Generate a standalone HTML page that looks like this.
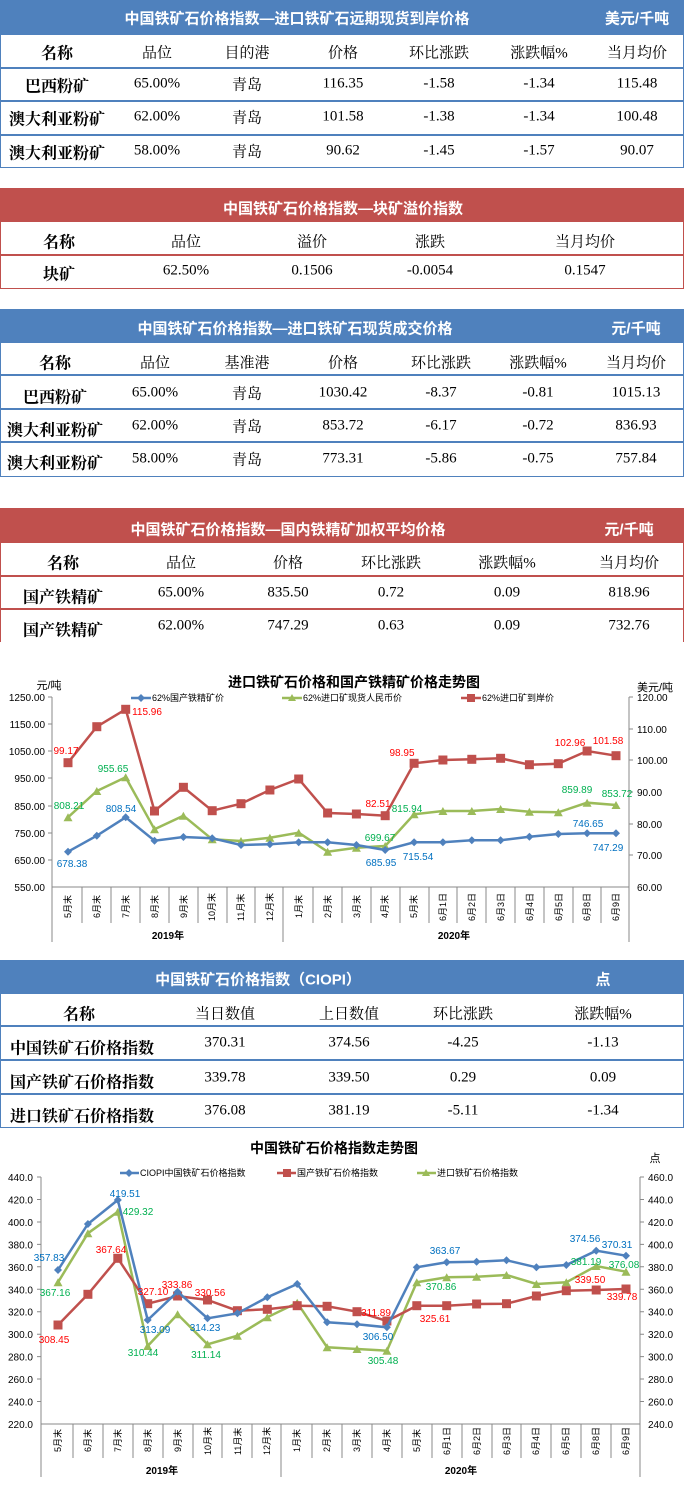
<!DOCTYPE html>
<html><head><meta charset="utf-8">
<style>
*{margin:0;padding:0;box-sizing:border-box}
body{width:684px;height:1487px;background:#fff;position:relative;overflow:hidden;font-family:"Liberation Serif","Noto Serif CJK SC",serif;color:#000}
.bar{position:absolute;left:0;width:684px;color:#fff;font-family:"Liberation Sans","Noto Sans CJK SC",sans-serif;font-weight:bold;font-size:15px}
.blue{background:#4f81bd}.red{background:#c0504d}
.box{position:absolute;left:0;width:684px}
.bb{border:1px solid #4f81bd;border-top:none}
.rb{border:1px solid #c0504d;border-top:none}
.hl{position:absolute;left:0;width:684px;height:2px}
.t{position:absolute;transform:translate(-50%,-50%);white-space:nowrap;font-size:15px}
.n{font-weight:bold;font-size:16px}
.l{position:absolute;transform:translateY(-50%);white-space:nowrap;font-weight:bold;font-size:16px}
svg text{font-family:"Liberation Sans","Noto Sans CJK SC",sans-serif}
</style></head><body>

<!-- Table 1 -->
<div class="bar blue" style="top:0;height:35px"></div>
<div class="t" style="left:297px;top:18px;color:#fff;font-family:'Liberation Sans','Noto Sans CJK SC',sans-serif;font-weight:bold">中国铁矿石价格指数—进口铁矿石远期现货到岸价格</div>
<div class="t" style="left:637px;top:18px;color:#fff;font-family:'Liberation Sans','Noto Sans CJK SC',sans-serif;font-weight:bold">美元/千吨</div>
<div class="box bb" style="top:35px;height:133px"></div>
<div class="hl" style="top:67px;background:#4f81bd"></div>
<div class="hl" style="top:100px;background:#4f81bd"></div>
<div class="hl" style="top:134px;background:#4f81bd"></div>
<div class="t n" style="left:57px;top:52px">名称</div><div class="t" style="left:157px;top:52px">品位</div><div class="t" style="left:247px;top:52px">目的港</div><div class="t" style="left:343px;top:52px">价格</div><div class="t" style="left:439px;top:52px">环比涨跌</div><div class="t" style="left:539px;top:52px">涨跌幅%</div><div class="t" style="left:637px;top:52px">当月均价</div>
<div class="t n" style="left:57px;top:85px">巴西粉矿</div><div class="t" style="left:157px;top:84px">65.00%</div><div class="t" style="left:247px;top:84px">青岛</div><div class="t" style="left:343px;top:84px">116.35</div><div class="t" style="left:439px;top:84px">-1.58</div><div class="t" style="left:539px;top:84px">-1.34</div><div class="t" style="left:637px;top:84px">115.48</div>
<div class="t n" style="left:57px;top:118px">澳大利亚粉矿</div><div class="t" style="left:157px;top:117px">62.00%</div><div class="t" style="left:247px;top:117px">青岛</div><div class="t" style="left:343px;top:117px">101.58</div><div class="t" style="left:439px;top:117px">-1.38</div><div class="t" style="left:539px;top:117px">-1.34</div><div class="t" style="left:637px;top:117px">100.48</div>
<div class="t n" style="left:57px;top:152px">澳大利亚粉矿</div><div class="t" style="left:157px;top:151px">58.00%</div><div class="t" style="left:247px;top:151px">青岛</div><div class="t" style="left:343px;top:151px">90.62</div><div class="t" style="left:439px;top:151px">-1.45</div><div class="t" style="left:539px;top:151px">-1.57</div><div class="t" style="left:637px;top:151px">90.07</div>

<!-- Table 2 -->
<div class="bar red" style="top:188px;height:34px"></div>
<div class="t" style="left:343px;top:208px;color:#fff;font-family:'Liberation Sans','Noto Sans CJK SC',sans-serif;font-weight:bold">中国铁矿石价格指数—块矿溢价指数</div>
<div class="box rb" style="top:222px;height:67px"></div>
<div class="hl" style="top:254px;background:#c0504d"></div>
<div class="t n" style="left:59px;top:241px">名称</div><div class="t" style="left:186px;top:241px">品位</div><div class="t" style="left:312px;top:241px">溢价</div><div class="t" style="left:430px;top:241px">涨跌</div><div class="t" style="left:585px;top:241px">当月均价</div>
<div class="t n" style="left:59px;top:273px">块矿</div><div class="t" style="left:186px;top:271px">62.50%</div><div class="t" style="left:312px;top:271px">0.1506</div><div class="t" style="left:430px;top:271px">-0.0054</div><div class="t" style="left:585px;top:271px">0.1547</div>

<!-- Table 3 -->
<div class="bar blue" style="top:309px;height:34px"></div>
<div class="t" style="left:295px;top:328px;color:#fff;font-family:'Liberation Sans','Noto Sans CJK SC',sans-serif;font-weight:bold">中国铁矿石价格指数—进口铁矿石现货成交价格</div>
<div class="t" style="left:636px;top:328px;color:#fff;font-family:'Liberation Sans','Noto Sans CJK SC',sans-serif;font-weight:bold">元/千吨</div>
<div class="box bb" style="top:343px;height:134px"></div>
<div class="hl" style="top:374px;background:#4f81bd"></div>
<div class="hl" style="top:408px;background:#4f81bd"></div>
<div class="hl" style="top:441px;background:#4f81bd"></div>
<div class="t n" style="left:55px;top:362px">名称</div><div class="t" style="left:155px;top:362px">品位</div><div class="t" style="left:247px;top:362px">基准港</div><div class="t" style="left:343px;top:362px">价格</div><div class="t" style="left:441px;top:362px">环比涨跌</div><div class="t" style="left:538px;top:362px">涨跌幅%</div><div class="t" style="left:636px;top:362px">当月均价</div>
<div class="t n" style="left:55px;top:396px">巴西粉矿</div><div class="t" style="left:155px;top:393px">65.00%</div><div class="t" style="left:247px;top:393px">青岛</div><div class="t" style="left:343px;top:393px">1030.42</div><div class="t" style="left:441px;top:393px">-8.37</div><div class="t" style="left:538px;top:393px">-0.81</div><div class="t" style="left:636px;top:393px">1015.13</div>
<div class="t n" style="left:55px;top:429px">澳大利亚粉矿</div><div class="t" style="left:155px;top:426px">62.00%</div><div class="t" style="left:247px;top:426px">青岛</div><div class="t" style="left:343px;top:426px">853.72</div><div class="t" style="left:441px;top:426px">-6.17</div><div class="t" style="left:538px;top:426px">-0.72</div><div class="t" style="left:636px;top:426px">836.93</div>
<div class="t n" style="left:55px;top:462px">澳大利亚粉矿</div><div class="t" style="left:155px;top:459px">58.00%</div><div class="t" style="left:247px;top:459px">青岛</div><div class="t" style="left:343px;top:459px">773.31</div><div class="t" style="left:441px;top:459px">-5.86</div><div class="t" style="left:538px;top:459px">-0.75</div><div class="t" style="left:636px;top:459px">757.84</div>

<!-- Table 4 -->
<div class="bar red" style="top:508px;height:35px"></div>
<div class="t" style="left:288px;top:529px;color:#fff;font-family:'Liberation Sans','Noto Sans CJK SC',sans-serif;font-weight:bold">中国铁矿石价格指数—国内铁精矿加权平均价格</div>
<div class="t" style="left:629px;top:529px;color:#fff;font-family:'Liberation Sans','Noto Sans CJK SC',sans-serif;font-weight:bold">元/千吨</div>
<div class="box" style="top:543px;height:99px;border-left:1px solid #c0504d;border-right:1px solid #c0504d"></div>
<div class="hl" style="top:575px;background:#c0504d"></div>
<div class="hl" style="top:608px;background:#c0504d"></div>
<div class="t n" style="left:63px;top:562px">名称</div><div class="t" style="left:181px;top:562px">品位</div><div class="t" style="left:288px;top:562px">价格</div><div class="t" style="left:391px;top:562px">环比涨跌</div><div class="t" style="left:507px;top:562px">涨跌幅%</div><div class="t" style="left:629px;top:562px">当月均价</div>
<div class="t n" style="left:63px;top:596px">国产铁精矿</div><div class="t" style="left:181px;top:593px">65.00%</div><div class="t" style="left:288px;top:593px">835.50</div><div class="t" style="left:391px;top:593px">0.72</div><div class="t" style="left:507px;top:593px">0.09</div><div class="t" style="left:629px;top:593px">818.96</div>
<div class="t n" style="left:63px;top:629px">国产铁精矿</div><div class="t" style="left:181px;top:626px">62.00%</div><div class="t" style="left:288px;top:626px">747.29</div><div class="t" style="left:391px;top:626px">0.63</div><div class="t" style="left:507px;top:626px">0.09</div><div class="t" style="left:629px;top:626px">732.76</div>

<!-- Chart 1 -->
<svg style="position:absolute;left:0;top:0" width="684" height="1487">
<defs>
<marker id="sq" markerWidth="10" markerHeight="10" refX="5" refY="5" markerUnits="userSpaceOnUse"><rect x="0.5" y="0.5" width="9" height="9" fill="#c0504d"/></marker>
<marker id="tr" markerWidth="10" markerHeight="10" refX="5" refY="5" markerUnits="userSpaceOnUse"><polygon points="5,1 9.5,9 0.5,9" fill="#9bbb59"/></marker>
<marker id="di" markerWidth="10" markerHeight="10" refX="5" refY="5" markerUnits="userSpaceOnUse"><polygon points="5,1 9,5 5,9 1,5" fill="#4f81bd"/></marker>
</defs>
<g stroke="#888" stroke-width="1" fill="none">
<line x1="52" y1="697" x2="52" y2="942"/><line x1="629" y1="697" x2="629" y2="942"/>
<line x1="52" y1="887" x2="629" y2="887"/>
<line x1="283" y1="887" x2="283" y2="942"/>
<line x1="48" y1="697" x2="52" y2="697"/><line x1="48" y1="724" x2="52" y2="724"/><line x1="48" y1="751" x2="52" y2="751"/><line x1="48" y1="778" x2="52" y2="778"/><line x1="48" y1="806" x2="52" y2="806"/><line x1="48" y1="833" x2="52" y2="833"/><line x1="48" y1="860" x2="52" y2="860"/>
<line x1="629" y1="697" x2="633" y2="697"/><line x1="629" y1="729" x2="633" y2="729"/><line x1="629" y1="760" x2="633" y2="760"/><line x1="629" y1="792" x2="633" y2="792"/><line x1="629" y1="824" x2="633" y2="824"/><line x1="629" y1="855" x2="633" y2="855"/>
<path d="M82 887v36M111 887v36M140 887v36M169 887v36M198 887v36M227 887v36M255 887v36M313 887v36M342 887v36M371 887v36M400 887v36M429 887v36M457 887v36M486 887v36M515 887v36M544 887v36M573 887v36M601 887v36"/>
</g>
<text x="354" y="687" font-size="14" font-weight="bold" text-anchor="middle">进口铁矿石价格和国产铁精矿价格走势图</text>
<text x="49" y="689" font-size="11" text-anchor="middle">元/吨</text>
<text x="655" y="691" font-size="11" text-anchor="middle">美元/吨</text>
<g font-size="10" text-anchor="end">
<text x="45" y="701">1250.00</text><text x="45" y="728">1150.00</text><text x="45" y="755">1050.00</text><text x="45" y="782">950.00</text><text x="45" y="810">850.00</text><text x="45" y="837">750.00</text><text x="45" y="864">650.00</text><text x="45" y="891">550.00</text>
</g>
<g font-size="10">
<text x="637" y="701">120.00</text><text x="637" y="733">110.00</text><text x="637" y="764">100.00</text><text x="637" y="796">90.00</text><text x="637" y="828">80.00</text><text x="637" y="859">70.00</text><text x="637" y="891">60.00</text>
</g>
<g font-size="9">
<line x1="131" y1="698" x2="151" y2="698" stroke="#4f81bd" stroke-width="2.5"/><polygon points="141,694 145,698 141,702 137,698" fill="#4f81bd"/>
<text x="152" y="701">62%国产铁精矿价</text>
<line x1="282" y1="698" x2="302" y2="698" stroke="#9bbb59" stroke-width="2.5"/><polygon points="292,694 296,701 288,701" fill="#9bbb59"/>
<text x="303" y="701">62%进口矿现货人民币价</text>
<line x1="461" y1="698" x2="481" y2="698" stroke="#c0504d" stroke-width="2.5"/><rect x="467" y="694" width="8" height="8" fill="#c0504d"/>
<text x="482" y="701">62%进口矿到岸价</text>
</g>
<polyline fill="none" stroke="#c0504d" stroke-width="2.5" marker-start="url(#sq)" marker-mid="url(#sq)" marker-end="url(#sq)" points="68,762.7 96.8,726.7 125.7,709.3 154.5,811 183.4,787.3 212.2,810.7 241,803.7 269.9,790 298.7,779 327.6,813 356.4,814 385.2,815.7 414.1,763.3 442.9,760 471.8,759.3 500.6,758.3 529.4,764.7 558.3,763.7 587.1,751 616,755.7"/>
<polyline fill="none" stroke="#9bbb59" stroke-width="2.5" marker-start="url(#tr)" marker-mid="url(#tr)" marker-end="url(#tr)" points="68,817.3 96.8,791 125.7,777.3 154.5,829.3 183.4,815.7 212.2,839.3 241,841 269.9,837.7 298.7,832.7 327.6,851.7 356.4,847.7 385.2,846 414.1,814.3 442.9,811 471.8,811 500.6,809 529.4,811.7 558.3,812.3 587.1,802.7 616,805"/>
<polyline fill="none" stroke="#4f81bd" stroke-width="2.5" marker-start="url(#di)" marker-mid="url(#di)" marker-end="url(#di)" points="68,851.7 96.8,835.7 125.7,817.3 154.5,840.7 183.4,837 212.2,838.3 241,845 269.9,844.3 298.7,842.3 327.6,842.3 356.4,845 385.2,850 414.1,842.3 442.9,842.3 471.8,840.3 500.6,840.3 529.4,836.7 558.3,834 587.1,833.3 616,833.3"/>
<g font-size="10" text-anchor="middle">
<g fill="#ff0000"><text x="66" y="754">99.17</text><text x="147" y="715">115.96</text><text x="402" y="756">98.95</text><text x="378" y="807">82.51</text><text x="570" y="746">102.96</text><text x="608" y="744">101.58</text></g>
<g fill="#00b050"><text x="69" y="809">808.21</text><text x="113" y="772">955.65</text><text x="407" y="812">815.94</text><text x="380" y="841">699.67</text><text x="577" y="793">859.89</text><text x="617" y="797">853.72</text></g>
<g fill="#0070c0"><text x="72" y="867">678.38</text><text x="121" y="812">808.54</text><text x="381" y="866">685.95</text><text x="418" y="860">715.54</text><text x="588" y="827">746.65</text><text x="608" y="851">747.29</text></g>
</g>
<g font-size="9">
<text transform="translate(71,918) rotate(-90)">5月末</text><text transform="translate(100,918) rotate(-90)">6月末</text><text transform="translate(129,918) rotate(-90)">7月末</text><text transform="translate(158,918) rotate(-90)">8月末</text><text transform="translate(187,918) rotate(-90)">9月末</text><text transform="translate(215,921) rotate(-90)">10月末</text><text transform="translate(244,921) rotate(-90)">11月末</text><text transform="translate(273,921) rotate(-90)">12月末</text><text transform="translate(302,918) rotate(-90)">1月末</text><text transform="translate(331,918) rotate(-90)">2月末</text><text transform="translate(360,918) rotate(-90)">3月末</text><text transform="translate(388,918) rotate(-90)">4月末</text><text transform="translate(417,918) rotate(-90)">5月末</text><text transform="translate(446,921) rotate(-90)">6月1日</text><text transform="translate(475,921) rotate(-90)">6月2日</text><text transform="translate(504,921) rotate(-90)">6月3日</text><text transform="translate(533,921) rotate(-90)">6月4日</text><text transform="translate(562,921) rotate(-90)">6月5日</text><text transform="translate(590,921) rotate(-90)">6月8日</text><text transform="translate(619,921) rotate(-90)">6月9日</text>
</g>
<text x="168" y="939" font-size="10" font-weight="bold" text-anchor="middle">2019年</text>
<text x="454" y="939" font-size="10" font-weight="bold" text-anchor="middle">2020年</text>
</svg>

<!-- Table 5 -->
<div class="bar blue" style="top:960px;height:34px"></div>
<div class="t" style="left:258px;top:979px;color:#fff;font-family:'Liberation Sans','Noto Sans CJK SC',sans-serif;font-weight:bold">中国铁矿石价格指数（CIOPI）</div>
<div class="t" style="left:603px;top:979px;color:#fff;font-family:'Liberation Sans','Noto Sans CJK SC',sans-serif;font-weight:bold">点</div>
<div class="box bb" style="top:994px;height:134px"></div>
<div class="hl" style="top:1025px;background:#4f81bd"></div>
<div class="hl" style="top:1059px;background:#4f81bd"></div>
<div class="hl" style="top:1093px;background:#4f81bd"></div>
<div class="t n" style="left:79px;top:1013px">名称</div><div class="t" style="left:225px;top:1013px">当日数值</div><div class="t" style="left:349px;top:1013px">上日数值</div><div class="t" style="left:463px;top:1013px">环比涨跌</div><div class="t" style="left:603px;top:1013px">涨跌幅%</div>
<div class="l" style="left:10px;top:1047px">中国铁矿石价格指数</div><div class="t" style="left:225px;top:1043px">370.31</div><div class="t" style="left:349px;top:1043px">374.56</div><div class="t" style="left:463px;top:1043px">-4.25</div><div class="t" style="left:603px;top:1043px">-1.13</div>
<div class="l" style="left:10px;top:1081px">国产铁矿石价格指数</div><div class="t" style="left:225px;top:1078px">339.78</div><div class="t" style="left:349px;top:1078px">339.50</div><div class="t" style="left:463px;top:1078px">0.29</div><div class="t" style="left:603px;top:1078px">0.09</div>
<div class="l" style="left:10px;top:1115px">进口铁矿石价格指数</div><div class="t" style="left:225px;top:1111px">376.08</div><div class="t" style="left:349px;top:1111px">381.19</div><div class="t" style="left:463px;top:1111px">-5.11</div><div class="t" style="left:603px;top:1111px">-1.34</div>

<!-- Chart 2 -->
<svg style="position:absolute;left:0;top:0" width="684" height="1487">
<defs>
<marker id="sq2" markerWidth="10" markerHeight="10" refX="5" refY="5" markerUnits="userSpaceOnUse"><rect x="0.5" y="0.5" width="9" height="9" fill="#c0504d"/></marker>
<marker id="tr2" markerWidth="10" markerHeight="10" refX="5" refY="5" markerUnits="userSpaceOnUse"><polygon points="5,1 9.5,9 0.5,9" fill="#9bbb59"/></marker>
<marker id="di2" markerWidth="10" markerHeight="10" refX="5" refY="5" markerUnits="userSpaceOnUse"><polygon points="5,1 9,5 5,9 1,5" fill="#4f81bd"/></marker>
</defs>
<g stroke="#888" stroke-width="1" fill="none">
<line x1="41" y1="1177" x2="41" y2="1477"/><line x1="640" y1="1177" x2="640" y2="1477"/>
<line x1="41" y1="1424" x2="640" y2="1424"/>
<line x1="281" y1="1424" x2="281" y2="1477"/>
<path d="M37 1177h4M37 1199.5h4M37 1222h4M37 1244.4h4M37 1266.8h4M37 1289.3h4M37 1311.7h4M37 1334.2h4M37 1356.6h4M37 1379h4M37 1401.5h4M640 1177h4M640 1199.5h4M640 1222h4M640 1244.4h4M640 1266.8h4M640 1289.3h4M640 1311.7h4M640 1334.2h4M640 1356.6h4M640 1379h4M640 1401.5h4"/>
<path d="M73 1424v34M103 1424v34M133 1424v34M163 1424v34M193 1424v34M222 1424v34M252 1424v34M312 1424v34M342 1424v34M372 1424v34M402 1424v34M432 1424v34M462 1424v34M492 1424v34M521 1424v34M551 1424v34M581 1424v34M611 1424v34"/>
</g>
<text x="334" y="1153" font-size="14" font-weight="bold" text-anchor="middle">中国铁矿石价格指数走势图</text>
<text x="655" y="1162" font-size="11" text-anchor="middle">点</text>
<g font-size="10" text-anchor="end">
<text x="33" y="1181">440.0</text><text x="33" y="1203.5">420.0</text><text x="33" y="1226">400.0</text><text x="33" y="1248.4">380.0</text><text x="33" y="1270.8">360.0</text><text x="33" y="1293.3">340.0</text><text x="33" y="1315.7">320.0</text><text x="33" y="1338.2">300.0</text><text x="33" y="1360.6">280.0</text><text x="33" y="1383">260.0</text><text x="33" y="1405.5">240.0</text><text x="33" y="1428">220.0</text>
</g>
<g font-size="10">
<text x="648" y="1181">460.0</text><text x="648" y="1203.5">440.0</text><text x="648" y="1226">420.0</text><text x="648" y="1248.4">400.0</text><text x="648" y="1270.8">380.0</text><text x="648" y="1293.3">360.0</text><text x="648" y="1315.7">340.0</text><text x="648" y="1338.2">320.0</text><text x="648" y="1360.6">300.0</text><text x="648" y="1383">280.0</text><text x="648" y="1405.5">260.0</text><text x="648" y="1428">240.0</text>
</g>
<g font-size="9">
<line x1="120" y1="1173" x2="139" y2="1173" stroke="#4f81bd" stroke-width="2.5"/><polygon points="129,1169 133,1173 129,1177 125,1173" fill="#4f81bd"/>
<text x="140" y="1176">CIOPI中国铁矿石价格指数</text>
<line x1="277" y1="1173" x2="296" y2="1173" stroke="#c0504d" stroke-width="2.5"/><rect x="283" y="1169" width="8" height="8" fill="#c0504d"/>
<text x="297" y="1176">国产铁矿石价格指数</text>
<line x1="417" y1="1173" x2="436" y2="1173" stroke="#9bbb59" stroke-width="2.5"/><polygon points="426,1169 430,1176 422,1176" fill="#9bbb59"/>
<text x="437" y="1176">进口铁矿石价格指数</text>
</g>
<polyline fill="none" stroke="#9bbb59" stroke-width="2.5" marker-start="url(#tr2)" marker-mid="url(#tr2)" marker-end="url(#tr2)" points="58,1282.3 87.9,1233.3 117.8,1211.7 147.7,1346 177.6,1314.3 207.5,1344.3 237.4,1335.7 267.3,1317.3 297.2,1302.7 327.1,1347.3 357,1349 386.9,1350.7 416.8,1282.3 446.7,1277.3 476.6,1276.7 506.5,1275 536.4,1284 566.3,1282.3 596.2,1266 626,1271.7"/>
<polyline fill="none" stroke="#c0504d" stroke-width="2.5" marker-start="url(#sq2)" marker-mid="url(#sq2)" marker-end="url(#sq2)" points="58,1325 87.9,1294.3 117.8,1258.3 147.7,1303.7 177.6,1296 207.5,1300 237.4,1310.7 267.3,1309.3 297.2,1305.7 327.1,1306.3 357,1311.7 386.9,1321 416.8,1305.7 446.7,1305.7 476.6,1304 506.5,1303.7 536.4,1296 566.3,1290.7 596.2,1290 626,1289"/>
<polyline fill="none" stroke="#4f81bd" stroke-width="2.5" marker-start="url(#di2)" marker-mid="url(#di2)" marker-end="url(#di2)" points="58,1270 87.9,1224 117.8,1200 147.7,1320 177.6,1291.7 207.5,1318.3 237.4,1313.3 267.3,1297.3 297.2,1284 327.1,1322.3 357,1324.3 386.9,1327.3 416.8,1267.3 446.7,1262.3 476.6,1261.7 506.5,1260.3 536.4,1267.3 566.3,1265 596.2,1250.7 626,1255.7"/>
<g font-size="10" text-anchor="middle">
<g fill="#0070c0"><text x="49" y="1261">357.83</text><text x="125" y="1197">419.51</text><text x="155" y="1333">313.09</text><text x="205" y="1331">314.23</text><text x="378" y="1340">306.50</text><text x="445" y="1254">363.67</text><text x="585" y="1242">374.56</text><text x="617" y="1248">370.31</text></g>
<g fill="#ff0000"><text x="54" y="1343">308.45</text><text x="111" y="1253">367.64</text><text x="153" y="1295">327.10</text><text x="177" y="1288">333.86</text><text x="210" y="1296">330.56</text><text x="376" y="1316">311.89</text><text x="435" y="1322">325.61</text><text x="590" y="1283">339.50</text><text x="622" y="1300">339.78</text></g>
<g fill="#00b050"><text x="55" y="1296">367.16</text><text x="138" y="1215">429.32</text><text x="143" y="1356">310.44</text><text x="206" y="1358">311.14</text><text x="383" y="1364">305.48</text><text x="441" y="1290">370.86</text><text x="586" y="1265">381.19</text><text x="624" y="1268">376.08</text></g>
</g>
<g font-size="9">
<text transform="translate(61,1452) rotate(-90)">5月末</text><text transform="translate(91,1452) rotate(-90)">6月末</text><text transform="translate(121,1452) rotate(-90)">7月末</text><text transform="translate(151,1452) rotate(-90)">8月末</text><text transform="translate(181,1452) rotate(-90)">9月末</text><text transform="translate(211,1455) rotate(-90)">10月末</text><text transform="translate(241,1455) rotate(-90)">11月末</text><text transform="translate(270,1455) rotate(-90)">12月末</text><text transform="translate(300,1452) rotate(-90)">1月末</text><text transform="translate(330,1452) rotate(-90)">2月末</text><text transform="translate(360,1452) rotate(-90)">3月末</text><text transform="translate(390,1452) rotate(-90)">4月末</text><text transform="translate(420,1452) rotate(-90)">5月末</text><text transform="translate(450,1455) rotate(-90)">6月1日</text><text transform="translate(480,1455) rotate(-90)">6月2日</text><text transform="translate(510,1455) rotate(-90)">6月3日</text><text transform="translate(539,1455) rotate(-90)">6月4日</text><text transform="translate(569,1455) rotate(-90)">6月5日</text><text transform="translate(599,1455) rotate(-90)">6月8日</text><text transform="translate(629,1455) rotate(-90)">6月9日</text>
</g>
<text x="162" y="1474" font-size="10" font-weight="bold" text-anchor="middle">2019年</text>
<text x="461" y="1474" font-size="10" font-weight="bold" text-anchor="middle">2020年</text>
</svg>
</body></html>
